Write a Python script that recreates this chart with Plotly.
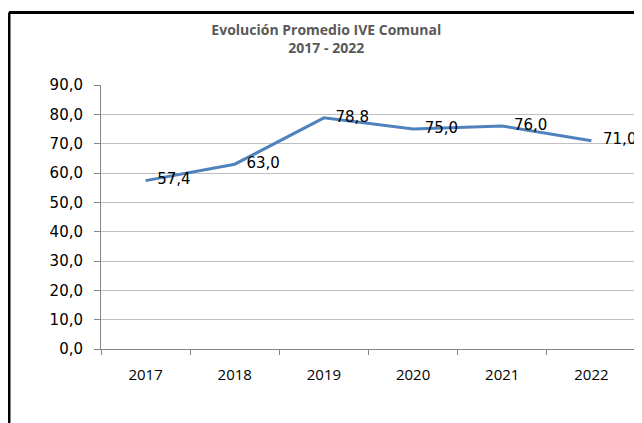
import plotly.graph_objects as go

years = ["2017", "2018", "2019", "2020", "2021", "2022"]
values = [57.4, 63.0, 78.8, 75.0, 76.0, 71.0]
labels = ["57,4", "63,0", "78,8", "75,0", "76,0", "71,0"]
title_lines = ["Evolución Promedio IVE Comunal", "2017 - 2022"]

fig = go.Figure()
fig.add_trace(go.Scatter(
    x=years, y=values, mode="lines+markers+text",
    line=dict(color="#4F81BD", width=3),
    marker=dict(size=17, color="rgba(0,0,0,0)"),
    text=labels, textposition="middle right",
    textfont=dict(family="DejaVu Sans", size=15, color="#000000"),
    cliponaxis=False, hoverinfo="skip", showlegend=False,
))

fig.update_layout(
    width=634, height=415,
    margin=dict(l=93, r=6, t=77, b=74),
    paper_bgcolor="white", plot_bgcolor="white",
    separators=",.",
    title=dict(
        text="<b>" + title_lines[0] + "</b><br><b>" + title_lines[1] + "</b>",
        x=0.502, xanchor="center", y=0.935, yanchor="top",
        font=dict(family="Open Sans", size=14, color="#595959"),
    ),
    xaxis=dict(
        type="category", tickson="boundaries", showgrid=False,
        showline=True, linecolor="#868686", linewidth=1,
        ticks="outside", ticklen=5, tickcolor="#868686",
        tickfont=dict(family="Open Sans", size=15, color="#000000"),
        ticklabelstandoff=12, automargin=False,
        range=[-0.5, 5.5], fixedrange=True,
    ),
    yaxis=dict(
        range=[0, 90], dtick=10, tickformat=".1f",
        showgrid=True, gridcolor="#c0c0c0", gridwidth=1,
        showline=True, linecolor="#868686", linewidth=1,
        ticks="outside", ticklen=6, tickcolor="#868686",
        tickfont=dict(family="DejaVu Sans", size=15, color="#000000"),
        ticklabelstandoff=8, automargin=False,
        zeroline=False,
    ),
    shapes=[
        dict(type="line", xref="paper", yref="paper",
             x0=-0.172, x1=-0.172, y0=-0.3, y1=1.275,
             line=dict(color="black", width=3)),
        dict(type="line", xref="paper", yref="paper",
             x0=-0.172, x1=1.1, y0=1.275, y1=1.275,
             line=dict(color="black", width=3)),
    ],
)

fig.write_html("out.html")
